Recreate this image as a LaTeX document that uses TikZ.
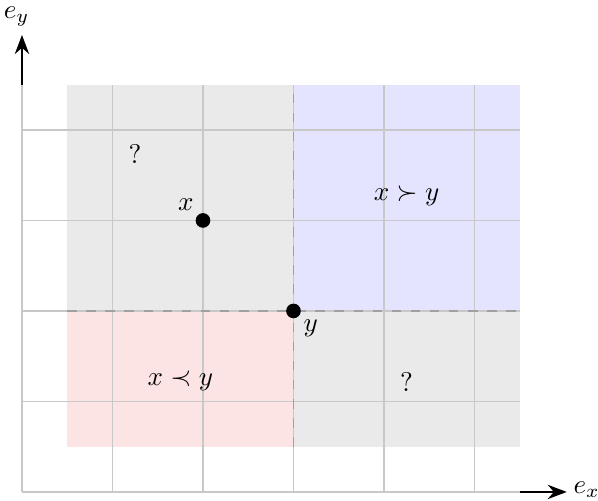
\documentclass[tikz,border=0pt]{standalone}
\usetikzlibrary{arrows.meta}
\definecolor{regiongray}{RGB}{234,234,234}
\definecolor{regionblue}{RGB}{228,228,255}
\definecolor{regionpink}{RGB}{253,228,228}
\definecolor{gridgray}{RGB}{200,200,200}
\definecolor{dashgray}{RGB}{160,160,160}
\tikzset{
  axis/.style={line width=0.7pt,-{Stealth[length=6pt,width=4.5pt]}},
  gridline/.style={gridgray,line width=0.5pt},
  dashline/.style={dashgray,dashed,line width=0.6pt},
  dot/.style={circle,fill=black,inner sep=0pt,minimum size=4.6pt},
  lbl/.style={inner sep=1pt,scale=0.85}
}
\begin{document}
\begin{tikzpicture}[x=1cm,y=1cm]
\useasboundingbox (-0.243,-0.099) rectangle (6.365,5.436);
% regions
\fill[regiongray] (0.5,2) rectangle (3,4.5);
\fill[regionblue] (3,2) rectangle (5.5,4.5);
\fill[regionpink] (0.5,0.5) rectangle (3,2);
\fill[regiongray] (3,0.5) rectangle (5.5,2);
% axes
\coordinate (o) at (0,0);
\coordinate (xend) at (6.02,0);
\coordinate (yend) at (0,5.05);
\draw[axis] (o) -- (xend);
\draw[axis] (o) -- (yend);
\node[lbl] (ex) at (6.24,0.03) {$e_x$};
\node[lbl] (ey) at (-0.06,5.25) {$e_y$};
% grid
\draw[gridline] (0,0) grid (5.5,4.5);
% dashed
\draw[dashline] (0.5,2) -- (5.5,2);
\draw[dashline] (3,0.5) -- (3,4.5);
% points
\node[dot] (px) at (2,3) {};
\node[dot] (py) at (3,2) {};
\node[lbl] (lx) at (1.81,3.17) {$x$};
\node[lbl] (ly) at (3.19,1.81) {$y$};
% region labels
\node[lbl] (q1) at (1.25,3.73) {?};
\node[lbl] (succ) at (4.25,3.27) {$x \succ y$};
\node[lbl] (prec) at (1.75,1.23) {$x \prec y$};
\node[lbl] (q2) at (4.25,1.22) {?};
\end{tikzpicture}
\end{document}
